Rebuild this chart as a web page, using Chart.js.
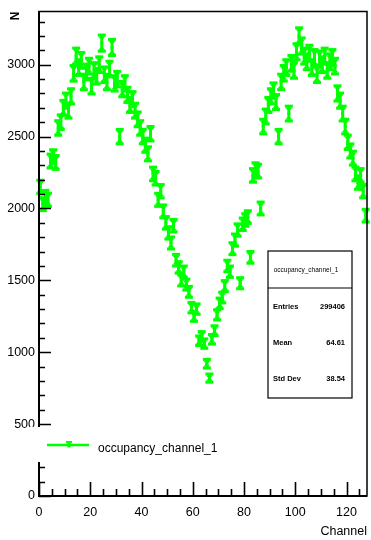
<!DOCTYPE html>
<html>
<head>
<meta charset="utf-8">
<title>occupancy_channel_1</title>
<script src="https://cdn.jsdelivr.net/npm/chart.js@4.4.1/dist/chart.umd.min.js"></script>
<style>
  html, body { margin: 0; padding: 0; background: #fff; }
  canvas { display: block; }
</style>
</head>
<body>
<canvas id="occ" width="371" height="540"></canvas>
<script>
// counts per channel (128 bins)
const occupancy = [
  2150, 2030, 2080, 2060, 2330, 2360, 2320, 2560, 2600, 2700,
  2750, 2680, 2780, 2940, 3060, 2980, 3030, 2880, 2950, 2990,
  2850, 2960, 2920, 3000, 3150, 2930, 2880, 2970, 3120, 2870,
  2900, 2500, 2830, 2870, 2790, 2720, 2760, 2680, 2620, 2560,
  2500, 2440, 2380, 2520, 2240, 2210, 2060, 2120, 1980, 1900,
  1830, 1760, 1880, 1640, 1590, 1500, 1560, 1470, 1420, 1310,
  1250, 1300, 1080, 1110, 1060, 920, 820, 1090, 1150, 1260,
  1340, 1380, 1460, 1600, 1560, 1720, 1780, 1850, 1480, 1890,
  1920, 1940, 1660, 2230, 2270, 2260, 2000, 2570, 2640, 2720,
  2780, 2820, 2740, 2500, 2880, 2940, 2980, 2660, 3010, 2960,
  3090, 3200, 3130, 3060, 3020, 3080, 2980, 3050, 2930, 3040,
  3000, 3060, 2960, 3020, 3050, 2990, 2800, 2750, 2660, 2570,
  2460, 2400, 2350, 2240, 2180, 2230, 2120, 1950
];
const xTicks = [0, 20, 40, 60, 80, 100, 120];
const yTicks = [0, 500, 1000, 1500, 2000, 2500, 3000];
const histName = 'occupancy_channel_1';
const statsLabels = ['Entries', 'Mean', 'Std Dev'];
const statsValues = ['299406', '64.61', '38.54'];

const GREEN = '#00ff00';
const FONT = 'Liberation Sans, Arial, Helvetica, sans-serif';

// bin centres
const points = occupancy.map((v, i) => ({ x: i + 0.5, y: v }));

function drawErrorBar(ctx, px, yTop, yBot) {
  ctx.fillRect(px - 1.5, yTop, 3, yBot - yTop);
  ctx.fillRect(px - 4, yTop - 1.5, 8, 3);
  ctx.fillRect(px - 4, yBot - 1.5, 8, 3);
  ctx.beginPath();
  ctx.moveTo(px - 3.5, yTop + 1.5); ctx.lineTo(px + 3.5, yTop + 1.5); ctx.lineTo(px, yTop + 5);
  ctx.closePath();
  ctx.moveTo(px - 3.5, yBot - 1.5); ctx.lineTo(px + 3.5, yBot - 1.5); ctx.lineTo(px, yBot - 5);
  ctx.closePath();
  ctx.fill();
}

// poisson error bars on every bin
const errorBars = {
  id: 'errorBars',
  afterDatasetsDraw(chart) {
    const { ctx } = chart;
    const y = chart.scales.y;
    const meta = chart.getDatasetMeta(0);
    ctx.save();
    ctx.fillStyle = GREEN;
    meta.data.forEach((pt, i) => {
      const v = occupancy[i];
      const err = Math.sqrt(v);
      drawErrorBar(ctx, pt.x, y.getPixelForValue(v + err), y.getPixelForValue(v - err));
    });
    ctx.restore();
  }
};

// frame with inward ticks, legend and stats box
const frameAndBoxes = {
  id: 'frameAndBoxes',
  afterDraw(chart) {
    const { ctx, chartArea: a } = chart;
    const x = chart.scales.x, y = chart.scales.y;
    ctx.save();
    ctx.strokeStyle = '#000';

    ctx.lineWidth = 1.5;
    ctx.strokeRect(a.left, a.top, a.right - a.left, a.bottom - a.top);
    ctx.lineWidth = 2;
    ctx.beginPath();
    ctx.moveTo(a.left, a.top); ctx.lineTo(a.left, a.bottom); ctx.lineTo(a.right, a.bottom);
    ctx.stroke();

    ctx.lineWidth = 1.6;
    ctx.beginPath();
    for (let v = 0; v <= y.max; v += 100) {
      const py = Math.round(y.getPixelForValue(v)) + 0.5;
      const len = v % 500 === 0 ? 12 : 6;
      ctx.moveTo(a.left, py); ctx.lineTo(a.left + len, py);
    }
    for (let v = 0; v <= x.max; v += 5) {
      const px = Math.round(x.getPixelForValue(v)) + 0.5;
      const len = v % 20 === 0 ? 14 : 7;
      ctx.moveTo(px, a.bottom); ctx.lineTo(px, a.bottom - len);
    }
    ctx.stroke();

    // legend
    ctx.fillStyle = '#fff';
    ctx.fillRect(28, 427, 210, 35);
    ctx.strokeStyle = GREEN;
    ctx.lineWidth = 2.5;
    ctx.beginPath();
    ctx.moveTo(47, 445); ctx.lineTo(89, 445);
    ctx.stroke();
    ctx.fillStyle = GREEN;
    ctx.fillRect(67.5, 441.5, 3, 6);
    ctx.fillRect(66, 441, 6, 2);
    ctx.fillStyle = '#000';
    ctx.font = '12px ' + FONT;
    ctx.textBaseline = 'middle';
    ctx.textAlign = 'left';
    ctx.fillText(chart.data.datasets[0].label, 98, 449);

    // stats box
    ctx.fillStyle = '#fff';
    ctx.fillRect(268, 251, 84, 147);
    ctx.strokeStyle = '#000';
    ctx.lineWidth = 1.2;
    ctx.strokeRect(268, 251, 84, 147);
    ctx.beginPath();
    ctx.moveTo(268, 288); ctx.lineTo(352, 288);
    ctx.stroke();
    ctx.fillStyle = '#000';
    ctx.font = '6.5px ' + FONT;
    ctx.textAlign = 'center';
    ctx.fillText(histName, 306, 270);
    ctx.font = 'bold 7.5px ' + FONT;
    statsLabels.forEach((lab, i) => {
      const ry = 307 + i * 36;
      ctx.textAlign = 'left';
      ctx.fillText(lab, 273, ry);
      ctx.textAlign = 'right';
      ctx.fillText(statsValues[i], 345, ry);
    });
    ctx.restore();
  }
};

new Chart(document.getElementById('occ'), {
  type: 'scatter',
  data: {
    datasets: [{
      label: histName,
      data: points,
      showLine: false,
      pointStyle: 'rect',
      pointRadius: 2,
      pointBackgroundColor: GREEN,
      pointBorderWidth: 0
    }]
  },
  options: {
    responsive: false,
    animation: false,
    devicePixelRatio: 1,
    layout: { padding: { top: 8, right: 2, left: 0, bottom: 0 } },
    plugins: { legend: { display: false }, tooltip: { enabled: false } },
    scales: {
      x: {
        type: 'linear',
        min: 0,
        max: 128,
        grid: { display: false, drawTicks: false },
        border: { display: false },
        afterBuildTicks: s => { s.ticks = xTicks.map(v => ({ value: v })); },
        afterFit: s => { s.height = 44; },
        ticks: {
          padding: 9, color: '#000', maxRotation: 0, autoSkip: false,
          font: { family: FONT, size: 12.5 },
          callback: v => String(v)
        },
        title: {
          display: true, text: 'Channel', align: 'end', color: '#000',
          font: { family: FONT, size: 12.5, lineHeight: 1.2 },
          padding: { top: 0, bottom: 1 }
        }
      },
      y: {
        type: 'linear',
        min: 0,
        max: 3370,
        grid: { display: false, drawTicks: false },
        border: { display: false },
        afterBuildTicks: s => { s.ticks = yTicks.map(v => ({ value: v })); },
        afterFit: s => { s.width = 39; },
        ticks: {
          padding: 4, color: '#000', autoSkip: false,
          font: { family: FONT, size: 12.5 },
          callback: v => String(v)
        },
        title: {
          display: true, text: 'N', align: 'end', color: '#000',
          font: { family: FONT, size: 12, weight: 'bold', lineHeight: 1.2 },
          padding: { top: 8.5, bottom: 0 }
        }
      }
    }
  },
  plugins: [errorBars, frameAndBoxes]
});
</script>
</body>
</html>
